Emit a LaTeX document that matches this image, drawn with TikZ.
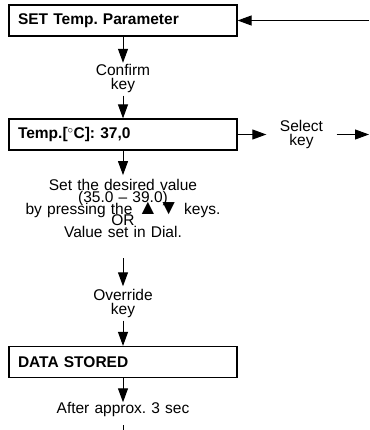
\documentclass[tikz,border=0pt]{standalone}
\usepackage{fontspec}
\setmainfont{Liberation Sans}
\usetikzlibrary{arrows.meta}
\frenchspacing

\begin{document}
\begin{tikzpicture}[x=1pt, y=-1pt,
  box/.style={draw, line width=1.2pt, minimum width=228pt, minimum height=31pt,
    text width=210pt, inner xsep=9pt, align=left,
    font=\bfseries\fontsize{15.5}{18}\selectfont},
  lbl/.style={text width=220pt, align=center, inner sep=0pt,
    font=\fontsize{15.5}{13.6}\selectfont,
    execute at begin node={\lineskiplimit=-50pt}},
  link/.style={line width=1pt},
  >={Triangle[width=10pt, length=14pt]}]

\def\mx{123}

\useasboundingbox (0,0) rectangle (369,430);

\node[box] (set) at (\mx,20.5) {SET Temp. Parameter};
\node[box] (temp) at (\mx,134.5) {Temp.[$^\circ$C]: 37,0};
\node[box] (stored) at (\mx,362) {DATA STORED};

\node[lbl] (confirm) at (\mx,78.5) {Confirm\\key};
\node[lbl, text width=44pt, inner xsep=13pt] (select) at (301.5,134.5) {Select\\key};
\node[lbl, font=\fontsize{15.5}{11.8}\selectfont] (value) at (\mx,208.6)
  {Set the desired value\\(35.0 – 39.0)\\by pressing the \scalebox{1.35}{▲▼} keys.\\OR\\Value set in Dial.};
\node[lbl] (override) at (\mx,303.5) {Override\\key};
\node[lbl] (after) at (\mx,409.7) {After approx. 3 sec};

\coordinate (back) at (369,20.5);
\coordinate (next) at (369,134.5);
\coordinate (down) at (\mx,430);

\draw[link, ->] (back) -- (set);
\draw[link, ->, shorten >=1.5pt] (set) -- (confirm);
\draw[link, ->, shorten <=3pt] (confirm) -- (temp);
\draw[link, ->] (temp) -- (select);
\draw[link, ->] (select) -- (next);
\draw[link, ->, shorten >=4pt] (temp) -- (value);
\draw[link, ->, shorten <=20pt, shorten >=3pt] (value) -- (override);
\draw[link, ->, shorten <=3pt] (override) -- (stored);
\draw[link, ->] (stored) -- (after);
\draw[link, shorten <=8pt] (after) -- (down);

\end{tikzpicture}
\end{document}
